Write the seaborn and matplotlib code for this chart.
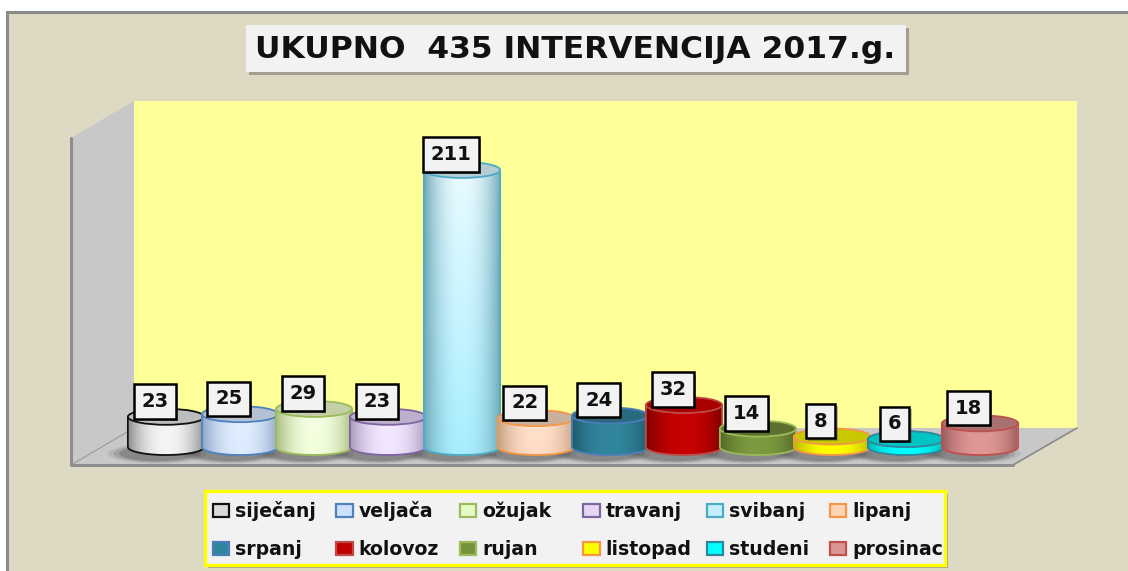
import numpy as np
import pandas as pd
import matplotlib
matplotlib.use('Agg')
import matplotlib.pyplot as plt
import matplotlib.patheffects as pe
from matplotlib.colors import to_rgb
from matplotlib.patches import Ellipse, Patch, PathPatch, Polygon, Rectangle
from matplotlib.path import Path
import seaborn as sns

months = ['siječanj', 'veljača', 'ožujak', 'travanj', 'svibanj', 'lipanj',
          'srpanj', 'kolovoz', 'rujan', 'listopad', 'studeni', 'prosinac']
counts = [23, 25, 29, 23, 211, 22, 24, 32, 14, 8, 6, 18]

body_centre = ['#f4f4f4', '#dcebff', '#f2ffdc', '#f0e4ff', '#a8eeff', '#ffdcc4',
               '#31869e', '#c80000', '#7c9a3e', '#ffff00', '#00ffff', '#e09896']
body_edge = ['#8c8c8c', '#8ca4c8', '#a8bc80', '#a898bc', '#6fa8b8', '#c8a080',
             '#1f5a6c', '#7c0000', '#50682a', '#b8b800', '#00b4b4', '#985c5c']
top_face = ['#bdbdbd', '#b4c0d4', '#c4cfa8', '#bcb0cc', '#b4ccd4', '#c8b09c',
            '#2a6a80', '#a80000', '#5c7030', '#c8c800', '#00c4c4', '#a87070']
outline = ['#111111', '#4f81bd', '#9bbb59', '#8064a2', '#4bacc6', '#f79646',
           '#4a7ebb', '#be4b48', '#9bbb59', '#f79646', '#31859c', '#c0504d']
legend_face = ['#d9d9d9', '#cfe0ff', '#e6fac8', '#e3d7f2', '#c4eefa', '#fdd5b5',
               '#31859c', '#c00000', '#76923c', '#ffff00', '#00ffff', '#d99694']
# how much paler the cylinder gets towards its top
sheen = [0.2, 0.2, 0.2, 0.2, 0.75, 0.2, 0, 0, 0, 0, 0, 0]

W, H = 1128, 571
PX_PER_UNIT = 1.313
BAR_WIDTH = 1.03
ELLIPSE_PX = 16
BELOW = 20  # room under the baseline, in data units, for the round cylinder bottoms

df = pd.DataFrame({'month': months, 'count': counts})

sns.set_theme(style='white')
plt.rcParams['font.family'] = ['DejaVu Sans']

fig = plt.figure(figsize=(W / 100, H / 100), dpi=100, facecolor='white')

# walls, floor and boxes, in pixel coordinates of the picture
bg = fig.add_axes([0, 0, 1, 1], zorder=0)
bg.set_xlim(0, W)
bg.set_ylim(H, 0)
bg.axis('off')
bg.add_patch(Rectangle((7, 12), W, H, fc='#ddd9c3', ec='#8a8a8a', lw=2.2))
bg.add_patch(Polygon([(134, 101), (1077, 101), (1077, 428), (134, 428)], fc='#ffff99', ec='none'))
bg.add_patch(Polygon([(71, 138), (134, 101), (134, 428), (71, 465)], fc='#c8c8c8', ec='none'))
bg.add_patch(Polygon([(71, 465), (134, 428), (1077, 428), (1013, 465)], fc='#c8c8c8', ec='none'))
bg.plot([71, 134], [465, 428], color='#9a9a9a', lw=0.8)
bg.plot([1013, 1077], [465, 428], color='#8a8a8a', lw=1.2)
bg.plot([71, 71, 1013], [138, 465, 465], color='#8e8e8e', lw=2.2)
shadow = [pe.SimplePatchShadow(offset=(2.5, -2.5), alpha=0.4), pe.Normal()]
bg.add_patch(Rectangle((246, 25), 660, 47, fc='#f2f2f2', ec='none', path_effects=shadow))
bg.add_patch(Rectangle((205, 491), 740, 74, fc='#f2f2f2', ec='#ffff00', lw=2.4, path_effects=shadow))

# 74 px per category
ymax = 347 / PX_PER_UNIT
ax = fig.add_axes([129 / W, (H - 447 - BELOW * PX_PER_UNIT) / H, 888 / W,
                   (347 + BELOW * PX_PER_UNIT) / H], zorder=1)
ax.patch.set_alpha(0)
sns.barplot(data=df, x='month', y='count', hue='month', palette=body_centre,
            width=BAR_WIDTH, dodge=False, legend=False, ax=ax)
ax.axis('off')

ell_h = ELLIPSE_PX / PX_PER_UNIT
bars = [c[0] for c in ax.containers]
xs = np.linspace(-1, 1, 200)
for i, bar in enumerate(bars):
    x0, w, h = bar.get_x(), bar.get_width(), bar.get_height()
    xc = x0 + w / 2
    z = 3 + i * 0.1
    bar.set_zorder(z)
    bar.set_linewidth(0)

    # soft shadow on the floor
    for grow, alpha in [(1.3, 0.10), (1.15, 0.16), (1.0, 0.22)]:
        ax.add_patch(Ellipse((xc - 0.12, -5), w * grow, ell_h * grow * 0.95, fc='#303030',
                             ec='none', alpha=alpha, zorder=2, clip_on=False))

    # body outline: straight sides and the lower half of an ellipse
    t = np.linspace(np.pi, 2 * np.pi, 40)
    ex = xc + w / 2 * np.cos(t)
    ey = ell_h / 2 * np.sin(t)
    verts = [(x0, h)] + list(zip(ex, ey)) + [(x0 + w, h), (x0, h)]
    body = Path(verts)

    # horizontal shading of the side, paler towards the top when sheen is set
    profile = np.abs(xs)[None, :, None] ** 2.2
    centre = np.array(to_rgb(body_centre[i]))
    edge = np.array(to_rgb(body_edge[i]))
    rows = np.linspace(1, 0, 60)[:, None, None] * sheen[i]
    c = centre + (1 - centre) * rows
    img = c * (1 - profile) + edge * profile
    im = ax.imshow(img, extent=(x0, x0 + w, -ell_h / 2, h), aspect='auto', zorder=z,
                   interpolation='bilinear')
    im.set_clip_path(PathPatch(body, transform=ax.transData))

    ax.add_patch(PathPatch(body, fc='none', ec=outline[i], lw=1.3, zorder=z, clip_on=False))
    ax.add_patch(Ellipse((xc, h), w, ell_h, fc=top_face[i], ec=outline[i], lw=1.3,
                         zorder=z, clip_on=False))

ax.set_xlim(-0.5, 11.5)
ax.set_ylim(-BELOW, ymax)

# value labels, drawn after all cylinders
for bar, value in zip(bars, counts):
    xc = bar.get_x() + bar.get_width() / 2
    txt = ax.annotate(str(value), (xc, bar.get_height()), xytext=(-8, 11),
                      textcoords='offset points', ha='center', va='center',
                      fontsize=14, fontweight='bold', color='#111111', zorder=10,
                      annotation_clip=False,
                      bbox=dict(boxstyle='square,pad=0.4', fc='#f2f2f2', ec='black', lw=1.8))
    txt.get_bbox_patch().set_path_effects([pe.SimplePatchShadow(offset=(1.5, -1.5), alpha=0.35),
                                           pe.Normal()])

# legend fills row by row in the picture, matplotlib fills column by column
handles = [Patch(fc=f, ec=e, lw=1.6, label=m) for f, e, m in zip(legend_face, outline, months)]
order = [j for i in range(6) for j in (i, i + 6)]
leg = fig.legend([handles[j] for j in order], [months[j] for j in order], ncols=6,
                 loc='lower left', borderaxespad=0, borderpad=0,
                 bbox_to_anchor=(213 / W, (H - 559) / H),
                 prop=dict(size=13.6, weight='bold'), labelcolor='#111111',
                 handlelength=0.87, handleheight=0.67, handletextpad=0.3,
                 labelspacing=1.02, columnspacing=0.5, frameon=False)
# all six columns the same width, as in the picture
leg._legend_handle_box.mode = 'equal'
leg._legend_handle_box.set_width(123.4 * 6)
leg.set_zorder(20)

fig.suptitle('UKUPNO  435 INTERVENCIJA 2017.g.', x=575 / W, y=1 - 49 / H,
             ha='center', va='center', family='DejaVu Sans', fontsize=22.6,
             fontweight='bold', color='#111111', zorder=20)

fig.savefig('out.png', dpi=100)
